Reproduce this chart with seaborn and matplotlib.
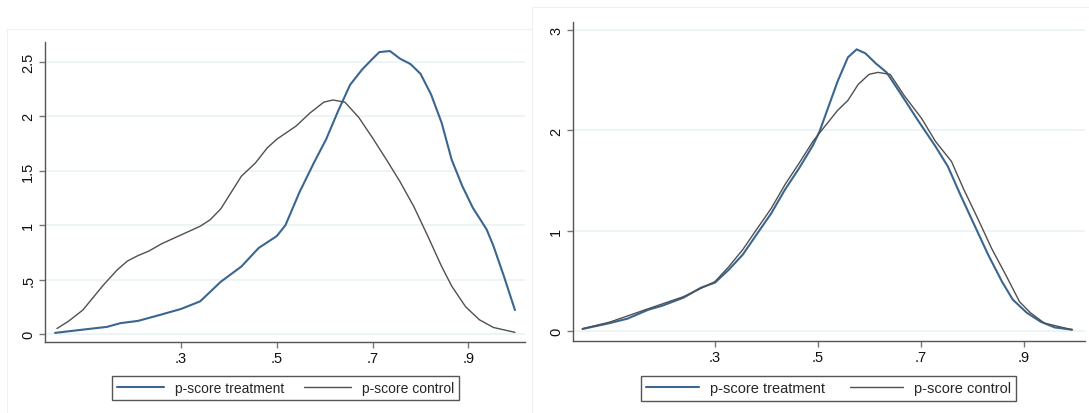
import seaborn as sns
import matplotlib.pyplot as plt
import pandas as pd
from matplotlib.lines import Line2D

# Left panel: propensity score densities before matching
left_treat_x = [0.037, 0.095, 0.145, 0.174, 0.21, 0.26, 0.30, 0.34, 0.383, 0.426, 0.462,
                0.50, 0.518, 0.547, 0.577, 0.603, 0.628, 0.653, 0.678, 0.70, 0.714, 0.736,
                0.757, 0.779, 0.80, 0.822, 0.844, 0.865, 0.887, 0.909, 0.938, 0.952, 0.974, 0.997]
left_treat_y = [0.01, 0.04, 0.065, 0.10, 0.12, 0.18, 0.23, 0.30, 0.48, 0.62, 0.79,
                0.90, 1.0, 1.30, 1.57, 1.79, 2.05, 2.29, 2.43, 2.53, 2.59, 2.60,
                2.53, 2.48, 2.39, 2.20, 1.94, 1.60, 1.36, 1.16, 0.96, 0.81, 0.53, 0.22]
left_ctrl_x = [0.041, 0.066, 0.095, 0.138, 0.167, 0.188, 0.21, 0.232, 0.26, 0.30, 0.34,
               0.361, 0.383, 0.426, 0.455, 0.48, 0.50, 0.54, 0.569, 0.598, 0.617, 0.642,
               0.671, 0.70, 0.729, 0.757, 0.786, 0.815, 0.844, 0.865, 0.894, 0.923, 0.952, 0.997]
left_ctrl_y = [0.05, 0.12, 0.22, 0.45, 0.59, 0.67, 0.72, 0.76, 0.83, 0.91, 0.99,
               1.05, 1.15, 1.45, 1.57, 1.71, 1.79, 1.91, 2.03, 2.13, 2.15, 2.13,
               1.99, 1.80, 1.60, 1.40, 1.17, 0.90, 0.62, 0.44, 0.25, 0.13, 0.06, 0.015]

# Right panel: after matching
right_treat_x = [0.043, 0.096, 0.13, 0.171, 0.198, 0.239, 0.273, 0.30, 0.327, 0.354, 0.382,
                 0.409, 0.436, 0.463, 0.49, 0.503, 0.517, 0.538, 0.558, 0.575, 0.592, 0.612,
                 0.633, 0.66, 0.694, 0.728, 0.752, 0.776, 0.803, 0.83, 0.857, 0.878, 0.905,
                 0.932, 0.959, 0.993]
right_treat_y = [0.017, 0.076, 0.12, 0.21, 0.25, 0.33, 0.43, 0.48, 0.61, 0.76, 0.97,
                 1.17, 1.41, 1.62, 1.85, 1.99, 2.19, 2.49, 2.73, 2.81, 2.77, 2.67,
                 2.58, 2.37, 2.10, 1.84, 1.64, 1.36, 1.06, 0.76, 0.49, 0.31, 0.18,
                 0.09, 0.033, 0.01]
right_ctrl_x = [0.043, 0.096, 0.171, 0.239, 0.30, 0.327, 0.354, 0.382, 0.409, 0.436, 0.463,
                0.49, 0.51, 0.538, 0.558, 0.578, 0.599, 0.616, 0.64, 0.667, 0.701, 0.728,
                0.759, 0.782, 0.81, 0.837, 0.864, 0.891, 0.912, 0.939, 0.993]
right_ctrl_y = [0.02, 0.086, 0.22, 0.34, 0.49, 0.64, 0.81, 1.02, 1.22, 1.46, 1.67,
                1.89, 2.02, 2.20, 2.30, 2.46, 2.56, 2.58, 2.56, 2.35, 2.12, 1.89,
                1.69, 1.42, 1.12, 0.82, 0.56, 0.29, 0.18, 0.076, 0.01]

labels = ['p-score treatment', 'p-score control']
x_ticks = [0.3, 0.5, 0.7, 0.9]
x_ticklabels = ['.3', '.5', '.7', '.9']
left_yticks = [0, 0.5, 1, 1.5, 2, 2.5]
left_yticklabels = ['0', '.5', '1', '1.5', '2', '2.5']
right_yticks = [0, 1, 2, 3]
right_yticklabels = ['0', '1', '2', '3']

colors = {labels[0]: '#3a668f', labels[1]: '#505050'}
widths = {labels[0]: 1.5, labels[1]: 1.0}


def make_df(tx, ty, cx, cy):
    a = pd.DataFrame({'x': tx, 'density': ty, 'group': labels[0]})
    b = pd.DataFrame({'x': cx, 'density': cy, 'group': labels[1]})
    return pd.concat([a, b], ignore_index=True)


sns.set_style('white')
plt.rcParams['font.family'] = ['Liberation Sans', 'DejaVu Sans']

fig = plt.figure(figsize=(10.89, 4.14), dpi=100)

# faint outer frames of the two graphs
fig.add_artist(Line2D([7 / 1089, 531.5 / 1089], [1 - 30 / 414] * 2, color='#f0f0f0', lw=0.8))
fig.add_artist(Line2D([7 / 1089] * 2, [0, 1 - 30 / 414], color='#f0f0f0', lw=0.8))
fig.add_artist(Line2D([531.5 / 1089, 1], [1 - 8 / 414] * 2, color='#f0f0f0', lw=0.8))
fig.add_artist(Line2D([531.5 / 1089] * 2, [0, 1 - 8 / 414], color='#f0f0f0', lw=0.8))

ax1 = fig.add_axes([0.0413, 0.1722, 0.4408, 0.7232])
ax2 = fig.add_axes([0.5259, 0.1746, 0.4704, 0.7691])

# ax, data, xlim, ylim, yticks, yticklabels, legend x, legend font, handle len, col spacing
panels = [
    (ax1, make_df(left_treat_x, left_treat_y, left_ctrl_x, left_ctrl_y),
     (0.016, 1.018), (-0.071, 2.68), left_yticks, left_yticklabels, 0.262, 10, 3.4, 1.4),
    (ax2, make_df(right_treat_x, right_treat_y, right_ctrl_x, right_ctrl_y),
     (0.024, 1.018), (-0.1, 3.08), right_yticks, right_yticklabels, 0.761, 10.5, 3.6, 1.7),
]

for ax, df, xlim, ylim, yt, ytl, lx, lfs, hl, cs in panels:
    for yv in yt:
        ax.axhline(yv, color='#eaf2f3', lw=1.2, zorder=0)
    for g in labels:
        sub = df[df['group'] == g]
        sns.lineplot(data=sub, x='x', y='density', ax=ax, color=colors[g],
                     lw=widths[g], estimator=None, sort=False, legend=False)
    ax.set_xlim(*xlim)
    ax.set_ylim(*ylim)
    ax.set_xticks(x_ticks)
    ax.set_xticklabels(x_ticklabels)
    ax.set_yticks(yt)
    ax.set_yticklabels(ytl, rotation=90, va='center')
    ax.set_xlabel('')
    ax.set_ylabel('')
    for s in ['top', 'right']:
        ax.spines[s].set_visible(False)
    for s in ['left', 'bottom']:
        ax.spines[s].set_color('#555555')
        ax.spines[s].set_linewidth(1.0)
    ax.tick_params(axis='both', length=4, width=1.0, color='#777777', labelsize=10.5,
                   labelcolor='#111111', direction='out', left=True, bottom=True, pad=3)

    handles = [Line2D([], [], color=colors[g], lw=widths[g]) for g in labels]
    fig.legend(handles, labels, loc='upper center', bbox_to_anchor=(lx, 1 - 370 / 414),
               ncol=2, frameon=True, fancybox=False, edgecolor='#555555', fontsize=lfs,
               handlelength=hl, handletextpad=0.8, columnspacing=cs, borderpad=0.35,
               framealpha=1)

plt.savefig('out.png', dpi=100)
